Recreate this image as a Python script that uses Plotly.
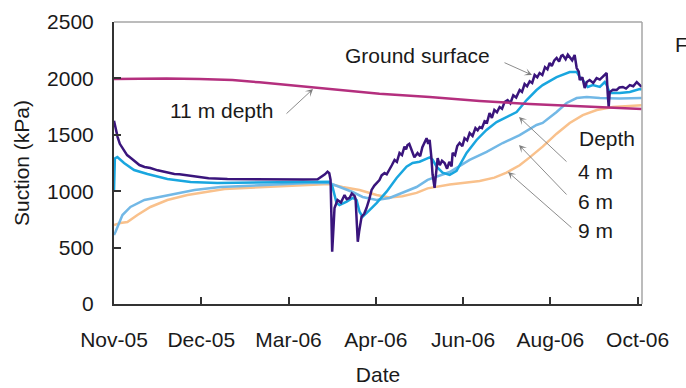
import numpy as np
import pandas as pd
import plotly.graph_objects as go

# ---------------- data (days since 2005-11-01, suction in kPa) ----------------
START_DATE = "2005-11-01"

ground_days = [0, 1, 2.5, 4, 6.9, 9, 12, 15, 17.5, 21, 25, 30, 35, 41.5, 45, 50, 58.7, 65, 78, 90, 100,
               110, 120, 130, 140, 142.7, 145, 146.8, 148, 148.9, 150, 151, 151.6, 153.7, 156, 158.5,
               160, 161.9, 163.5, 165.4, 166.1, 167, 167.6, 168.5, 170.2, 172, 173.6, 175.5, 177.1,
               179, 180.5, 182.5, 184, 186, 187.5, 189.4, 191, 192.9, 194.5, 196.3, 198, 199.7, 200.8,
               201.8, 203, 204.6, 206.5, 208.7, 210.5, 212, 213.5, 214.9, 216, 217, 218.2, 219, 220.4,
               221.5, 222.5, 224, 225.5, 227.3, 229, 230.5, 232.1, 232.8, 234.5, 236, 237.6, 239.5,
               241, 242.8, 244.5, 246.5, 248.5, 250, 251.4, 253, 254.8, 256.5, 258.2, 259.8, 261.5,
               263.3, 265.1, 266.8, 268.5, 270.6, 272.5, 274.5, 276.5, 278.9, 280.5, 282.3, 284,
               285.8, 287.5, 289.2, 291, 292.6, 294.5, 296.3, 298, 299.5, 301, 302.7, 304.3, 306,
               307.5, 308.5, 310.5, 312, 313.3, 315, 316.7, 318.1, 319.5, 320.2, 322, 323.6, 325,
               327, 329.5, 331.8, 334, 336, 337.5, 338.7, 339.4, 340.1, 340.8, 343, 345.6, 347.5,
               349.8, 352, 354.6, 357, 359.4, 361, 362.8]
ground_kpa = [1625, 1560, 1480, 1420, 1365, 1320, 1290, 1255, 1232, 1215, 1205, 1185, 1170, 1152, 1150,
              1140, 1126, 1115, 1108, 1106, 1105, 1104, 1103, 1104, 1105, 1128, 1150, 1173, 1160, 1100,
              464, 700, 850, 922, 900, 966, 930, 940, 980, 957, 930, 700, 552, 640, 774, 800, 851, 930,
              1011, 1050, 1070, 1099, 1140, 1161, 1150, 1188, 1230, 1277, 1260, 1339, 1320, 1395, 1370,
              1410, 1420, 1365, 1300, 1339, 1310, 1390, 1439, 1470, 1420, 1454, 1300, 1150, 1030,
              1180, 1294, 1230, 1270, 1250, 1200, 1260, 1220, 1339, 1320, 1400, 1427, 1400,
              1470, 1450, 1516, 1490, 1560, 1540, 1569, 1560, 1620, 1610, 1693, 1650, 1720,
              1700, 1746, 1730, 1790, 1808, 1780, 1850, 1830, 1897, 1880, 1950, 1930,
              1975, 1960, 2030, 2010, 2048, 2030, 2100, 2080, 2137, 2110, 2160, 2181, 2150,
              2200, 2207, 2170, 2210, 2190, 2160, 2207, 2092, 2060, 1986, 2010, 1915, 1968,
              1986, 1960, 2003, 1990, 2012, 2030, 2048, 1870, 1746, 1879, 1900, 1897, 1920,
              1924, 1910, 1941, 1930, 1968, 1950, 1924]

d4_days = [0, 0.6, 2.3, 6.9, 13.8, 23, 36.7, 52.6, 71.1, 100, 127.5, 141.3, 148.2, 150.2, 153, 155,
           160, 164, 166.8, 168.8, 170.9, 175.7, 180.5, 187.4, 194.3, 201.1, 205.3, 210.1, 215.6,
           217, 219, 221.8, 225.9, 230.8, 235.5, 242.4, 249.3, 256.1, 263, 269.9, 276.8, 283.7,
           290.5, 294.7, 304.3, 313.3, 318.1, 320.2, 322.3, 325.7, 329.2, 334, 337.4, 338.7,
           340.8, 347.6, 354.6, 361.4, 362.8]
d4_kpa = [1000, 1290, 1303, 1250, 1188, 1152, 1108, 1082, 1073, 1075, 1078, 1084, 1084, 1040, 895, 878,
          907, 940, 922, 818, 774, 833, 895, 996, 1117, 1217, 1250, 1261, 1294,
          1300, 1280, 1217, 1165, 1145, 1180, 1339, 1454, 1543, 1613, 1658, 1702, 1808,
          1897, 1941, 2012, 2057, 2057, 2012, 1986, 1924, 1941, 1924, 1968, 1941,
          1870, 1870, 1879, 1906, 1900]

d6_days = [0, 1, 5.8, 11.3, 20.9, 36.7, 55.3, 73.1, 100, 134.4, 148.2, 155, 164, 170.9, 180.5, 189.4,
           198.3, 208, 215.6, 223.9, 230.8, 244.5, 256.2, 267.2, 278.9, 290.5, 294.7, 304.3, 311.2,
           318.1, 325, 334, 347.6, 362.8]
d6_kpa = [612, 638, 789, 860, 922, 966, 1011, 1037, 1055, 1073, 1073, 1037, 993, 949, 922, 940,
          984, 1037, 1100, 1140, 1170, 1277, 1348, 1427, 1498, 1587, 1605, 1702, 1782,
          1826, 1835, 1826, 1822, 1826]

d9_days = [0, 4.4, 9.2, 16.1, 25, 36.7, 50.5, 64.2, 76, 100, 120.7, 141.3, 148.2, 157.1, 168.8, 180.5,
           189.4, 198.3, 208, 215.6, 230.8, 251.4, 261.5, 269.9, 278.9, 285.8, 294.7, 304.3, 313.3,
           322.3, 331.9, 342.9, 354.6, 362.8]
d9_kpa = [700, 718, 727, 789, 860, 922, 966, 993, 1020, 1035, 1045, 1055, 1064, 1037, 1011, 966,
          945, 955, 985, 1025, 1060, 1090, 1120, 1165, 1230, 1300, 1395, 1510, 1605,
          1675, 1720, 1746, 1755, 1762]

d11_days = [0, 36, 58.7, 81.4, 100, 120.7, 136.5, 148.2, 162, 182.5, 217, 251.4, 285.8, 331.8, 362.8]
d11_kpa = [1995, 2000, 1995, 1985, 1965, 1940, 1920, 1908, 1890, 1865, 1835, 1800, 1773, 1746, 1729]

tick_days = [0, 60, 120, 180, 240, 300, 360]
tick_labels = ["Nov-05", "Dec-05", "Mar-06", "Apr-06", "Jun-06", "Aug-06", "Oct-06"]
axis_end_day = 363

y_ticks = [0, 500, 1000, 1500, 2000, 2500]

# ---------------- helpers ----------------
start = pd.Timestamp(START_DATE)


def to_dates(days):
    return start + pd.to_timedelta(np.asarray(days, dtype=float), unit="D")


FONT = "Liberation Sans, Arial, sans-serif"
FS = 21

fig = go.Figure()

series = [
    ("9 m", d9_days, d9_kpa, "#F9C18C"),
    ("6 m", d6_days, d6_kpa, "#72B8E6"),
    ("4 m", d4_days, d4_kpa, "#19A6DF"),
    ("Ground surface", ground_days, ground_kpa, "#3A157C"),
    ("11 m", d11_days, d11_kpa, "#B42F7E"),
]
for name, dd, vv, col in series:
    fig.add_trace(go.Scatter(x=to_dates(dd), y=vv, mode="lines", name=name,
                             line=dict(color=col, width=2.5), showlegend=False))

fig.update_layout(
    width=686, height=388,
    margin=dict(l=114, r=44, t=22, b=84),
    paper_bgcolor="white", plot_bgcolor="white",
    font=dict(family=FONT, size=FS, color="#1a1a1a"),
    showlegend=False,
)

fig.update_xaxes(
    type="date", automargin=False,
    range=[to_dates([0])[0], to_dates([axis_end_day])[0]],
    tickmode="array", tickvals=to_dates(tick_days), ticktext=tick_labels,
    ticks="inside", ticklen=7, tickwidth=1.5, tickcolor="#333333",
    showline=True, linecolor="#333333", linewidth=2,
    showgrid=False, zeroline=False,
    ticklabelstandoff=16,
    title=dict(text="Date", font=dict(family=FONT, size=FS), standoff=17),
)
fig.update_yaxes(
    range=[0, 2500], tickmode="array", tickvals=y_ticks, automargin=False,
    ticks="inside", ticklen=7, tickwidth=1.5, tickcolor="#333333",
    showline=True, linecolor="#333333", linewidth=2,
    showgrid=False, zeroline=False,
    ticklabelstandoff=14,
    title=dict(text="Suction (kPa)", font=dict(family=FONT, size=FS), standoff=12),
)

# top and right frame (light grey)
fig.add_shape(type="line", xref="paper", yref="paper", x0=0, x1=1, y0=1, y1=1,
              line=dict(color="#A6A6A6", width=1.5))
fig.add_shape(type="line", xref="paper", yref="paper", x0=1, x1=1, y0=0, y1=1,
              line=dict(color="#A6A6A6", width=1.5))

PW, PH, L, T = 528.0, 282.0, 114.0, 22.0


def px(xp, yp):
    return (xp - L) / PW, (T + PH - yp) / PH


# text labels
labels = [
    ("Ground surface", 417, 55, "center"),
    ("11 m depth", 222, 110, "center"),
    ("Depth", 607, 138, "center"),
    ("4 m", 595, 171, "center"),
    ("6 m", 595, 201, "center"),
    ("9 m", 595, 230, "center"),
]
for txt, x0, y0, anc in labels:
    xx, yy = px(x0, y0)
    fig.add_annotation(text=txt, x=xx, y=yy, xref="paper", yref="paper", showarrow=False,
                       xanchor=anc, yanchor="middle", font=dict(family=FONT, size=FS, color="#1a1a1a"))

xx, yy = px(673, 45)
fig.add_annotation(text="F", x=xx, y=yy, xref="paper", yref="paper", showarrow=False,
                   xanchor="left", yanchor="middle", font=dict(family=FONT, size=FS, color="#1a1a1a"))

# arrows: (tip px, tail px)
arrows = [
    ((532, 75), (503, 62)),
    ((313, 89), (285, 115)),
    ((519, 117), (568, 163)),
    ((519, 145), (568, 196)),
    ((508, 172), (573, 229)),
]
for (tx, ty), (sx, sy) in arrows:
    xx, yy = px(tx, ty)
    fig.add_annotation(text="", x=xx, y=yy, xref="paper", yref="paper",
                       ax=sx - tx, ay=sy - ty, showarrow=True,
                       arrowhead=3, arrowsize=1.4, arrowwidth=0.9, arrowcolor="#7F7F7F")

fig.write_html("out.html", config={"displayModeBar": False},
               post_script="document.body.style.margin='0px';document.body.style.overflow='hidden';")
